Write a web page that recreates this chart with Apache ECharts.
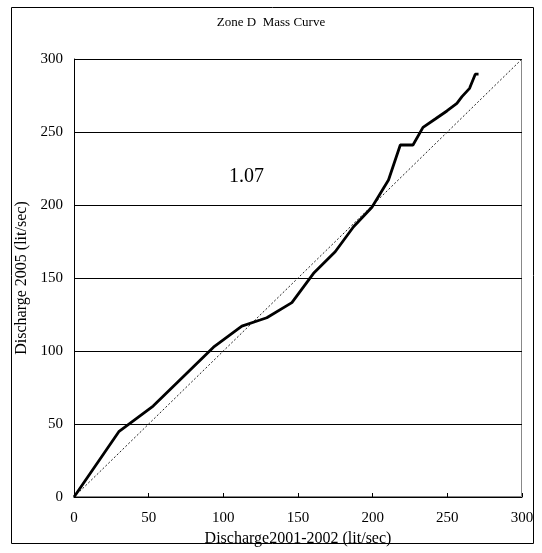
<!DOCTYPE html>
<html>
<head>
<meta charset="utf-8">
<script src="https://cdn.jsdelivr.net/npm/echarts@6/dist/echarts.min.js"></script>
<style>html,body{margin:0;padding:0;background:#fff}#c{width:542px;height:553px}</style>
</head>
<body>
<div id="c"></div>
<script>
var titleText = 'Zone D  Mass Curve';
var xAxisName = 'Discharge2001-2002 (lit/sec)';
var yAxisName = 'Discharge 2005 (lit/sec)';
var ratioLabel = '1.07';
var massX = [0, 30, 53, 93.4, 112.4, 124.6, 129.1, 145.9, 160.4, 174.9, 187.2, 199.5, 210.6, 218.5, 227, 233.7, 241.9, 249.7, 256.4, 259.8, 264.9, 268.7, 270.9];
var massY = [0, 44.7, 62.3, 102.6, 117, 121.2, 122.8, 133.1, 153.2, 168.0, 185.1, 198.5, 217.1, 241.1, 241.1, 253.2, 258.9, 264.4, 269.6, 274.2, 279.9, 289.6, 289.6];
var refX = [0, 300];
var refY = [0, 300];

var serif = '"Liberation Serif", "DejaVu Serif", serif';
var chart = echarts.init(document.getElementById('c'));
chart.setOption({
  animation: false,
  backgroundColor: '#fff',
  title: {
    text: titleText, left: 'center', top: 11,
    textStyle: { fontFamily: serif, fontSize: 13, fontWeight: 'normal', color: '#000' }
  },
  grid: { left: 74, right: 20, top: 59, bottom: 56 },
  xAxis: {
    type: 'value', min: 0, max: 300, interval: 50,
    name: xAxisName, nameLocation: 'middle', nameGap: 33,
    nameTextStyle: { fontFamily: serif, fontSize: 16, color: '#000' },
    axisLine: { show: true, lineStyle: { color: '#000', width: 1 } },
    axisTick: { show: true, inside: true, length: 4, lineStyle: { color: '#000' } },
    axisLabel: { fontFamily: serif, fontSize: 15, color: '#000', margin: 14 },
    splitLine: { show: false }
  },
  yAxis: {
    type: 'value', min: 0, max: 300, interval: 50,
    name: yAxisName, nameLocation: 'middle', nameGap: 41,
    nameTextStyle: { fontFamily: serif, fontSize: 16, color: '#000' },
    axisLine: { show: true, lineStyle: { color: '#000', width: 1 } },
    axisTick: { show: true, inside: true, length: 4, lineStyle: { color: '#000' } },
    axisLabel: { fontFamily: serif, fontSize: 15, color: '#000', margin: 11 },
    splitLine: { show: true, lineStyle: { color: '#000', width: 1 } }
  },
  graphic: [
    { type: 'rect', shape: { x: 11.5, y: 7.5, width: 522, height: 536 }, style: { fill: 'none', stroke: '#000', lineWidth: 1 }, z: 100 },
    { type: 'rect', shape: { x: 74.5, y: 59.5, width: 447, height: 437 }, style: { fill: 'none', stroke: '#888', lineWidth: 1 }, z: -1 },
    { type: 'text', left: 229, top: 167, style: { text: ratioLabel, font: '20px ' + serif, fill: '#000' } }
  ],
  series: [
    {
      type: 'line', data: refX.map(function (x, i) { return [x, refY[i]]; }),
      symbol: 'none', lineStyle: { color: '#222', width: 1, type: [2, 2] }, z: 2
    },
    {
      type: 'line', data: massX.map(function (x, i) { return [x, massY[i]]; }),
      symbol: 'none', lineStyle: { color: '#000', width: 2.8 }, z: 3
    }
  ]
});
</script>
</body>
</html>
